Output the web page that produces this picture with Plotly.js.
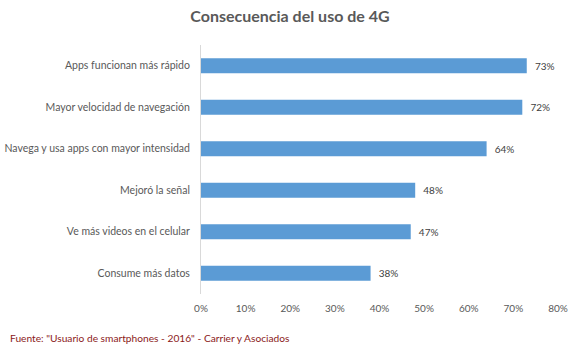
<!DOCTYPE html>
<html>
<head>
<meta charset="utf-8">
<script src="https://cdn.plot.ly/plotly-3.0.1.min.js"></script>
<style>html,body{margin:0;padding:0;background:#fff;}#chart{width:580px;height:351px;}</style>
</head>
<body>
<div id="chart"></div>
<script>
const categories = [
  "Apps funcionan más rápido",
  "Mayor velocidad de navegación",
  "Navega y usa apps con mayor intensidad",
  "Mejoró la señal",
  "Ve más videos en el celular",
  "Consume más datos"
];
const values = [0.73, 0.72, 0.64, 0.48, 0.47, 0.38];
const valueLabels = ["73%", "72%", "64%", "48%", "47%", "38%"];
const xTickVals = [0, 0.1, 0.2, 0.3, 0.4, 0.5, 0.6, 0.7, 0.8];
const xTickText = ["0%", "10%", "20%", "30%", "40%", "50%", "60%", "70%", "80%"];
const titleText = "Consecuencia del uso de 4G";
const sourceText = "Fuente: \"Usuario de smartphones - 2016\" - Carrier y Asociados";

const font = "Lato, 'Open Sans', sans-serif";

const trace = {
  type: "bar",
  orientation: "h",
  x: values,
  y: categories,
  text: valueLabels.map(s => "  " + s),
  textposition: "outside",
  textfont: {family: font, size: 10, color: "#404040"},
  cliponaxis: false,
  marker: {color: "#5B9BD5"},
  hoverinfo: "none"
};

const layout = {
  width: 580,
  height: 351,
  margin: {l: 201, r: 22, t: 45, b: 57},
  paper_bgcolor: "#ffffff",
  plot_bgcolor: "#ffffff",
  bargap: 0.64,
  showlegend: false,
  title: {
    text: "<b>" + titleText + "</b>",
    font: {family: font, size: 16, color: "#595959"},
    x: 0.5, xanchor: "center",
    y: 0.952, yanchor: "middle"
  },
  xaxis: {
    range: [0, 0.8],
    tickvals: xTickVals,
    ticktext: xTickText,
    showgrid: false,
    zeroline: false,
    showline: false,
    ticks: "outside",
    ticklen: 5,
    tickcolor: "rgba(0,0,0,0)",
    tickfont: {family: font, size: 10, color: "#595959"},
    fixedrange: true
  },
  yaxis: {
    autorange: "reversed",
    showgrid: false,
    zeroline: false,
    showline: true,
    linecolor: "#d9d9d9",
    linewidth: 1,
    ticks: "outside",
    ticklen: 8,
    tickcolor: "rgba(0,0,0,0)",
    tickfont: {family: font, size: 10.5, color: "#595959"},
    fixedrange: true
  },
  annotations: [{
    text: sourceText,
    xref: "paper", yref: "paper",
    x: (8 - 201) / 357, y: (294 - 338) / 249,
    xanchor: "left", yanchor: "middle",
    showarrow: false,
    font: {family: font, size: 10.2, color: "#8B1A1A"}
  }]
};

Plotly.newPlot("chart", [trace], layout, {displayModeBar: false, staticPlot: true});
</script>
</body>
</html>
